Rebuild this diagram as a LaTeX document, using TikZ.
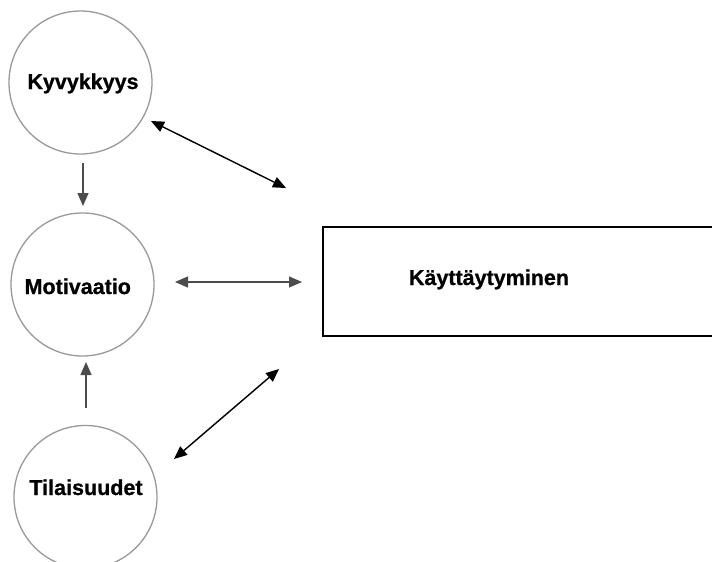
\documentclass[tikz,border=0pt]{standalone}
\usepackage{fontspec}
\setmainfont{Liberation Sans}[BoldFeatures={FakeBold=0.8}]
\usetikzlibrary{arrows.meta}
\newcommand{\placetext}[3]{\hspace*{#1}\raisebox{#2}[0pt][0pt]{#3}}
\begin{document}
\begin{tikzpicture}[x=1pt,y=-1pt,
  factor/.style={circle,draw=black!40,line width=1.3pt,minimum size=143pt,inner sep=0pt,font=\bfseries\fontsize{21.5}{24}\selectfont},
  behbox/.style={draw=black,line width=1.8pt,inner sep=0pt},
  lbl/.style={font=\bfseries\fontsize{21.5}{24}\selectfont,inner sep=0pt},
  tip/.style={-{Triangle[length=13pt,width=11pt]}},
  dtip/.style={{Triangle[length=13pt,width=11pt]}-{Triangle[length=13pt,width=11pt]}},
  gline/.style={draw=black!70,line width=1.2pt},
  bline/.style={draw=black,line width=1.4pt}]
\useasboundingbox (0,0) rectangle (712,562);
\fill[white] (0,0) rectangle (712,562);
\node[factor] (k) at (80.5,82.5) {\placetext{5pt}{-6.5pt}{Kyvykkyys}};
\node[factor] (m) at (82.5,284.5) {\placetext{-9.5pt}{-9.5pt}{Motivaatio}};
\node[factor] (t) at (85.5,497) {\placetext{1pt}{2pt}{Tilaisuudet}};
\draw[behbox] (323,227) rectangle (730,336);
\node[lbl] (b) at (489,277) {\raisebox{-8pt}[0pt][0pt]{Käyttäytyminen}};
% arrow end points
\coordinate (k1) at (83,163);
\coordinate (k2) at (83,206);
\coordinate (t1) at (86,408);
\coordinate (t2) at (86,362);
\coordinate (kb1) at (151,121);
\coordinate (kb2) at (286,188);
\coordinate (mb1) at (175,282);
\coordinate (mb2) at (302,282);
\coordinate (tb1) at (174,459);
\coordinate (tb2) at (279,369);
\draw[gline,tip,fill=black] (k1) -- (k2);
\draw[gline,tip,fill=black] (t1) -- (t2);
\draw[bline,dtip,fill=black] (kb1) -- (kb2);
\draw[gline,dtip,fill=black] (mb1) -- (mb2);
\draw[bline,dtip,fill=black] (tb1) -- (tb2);
\end{tikzpicture}
\end{document}
